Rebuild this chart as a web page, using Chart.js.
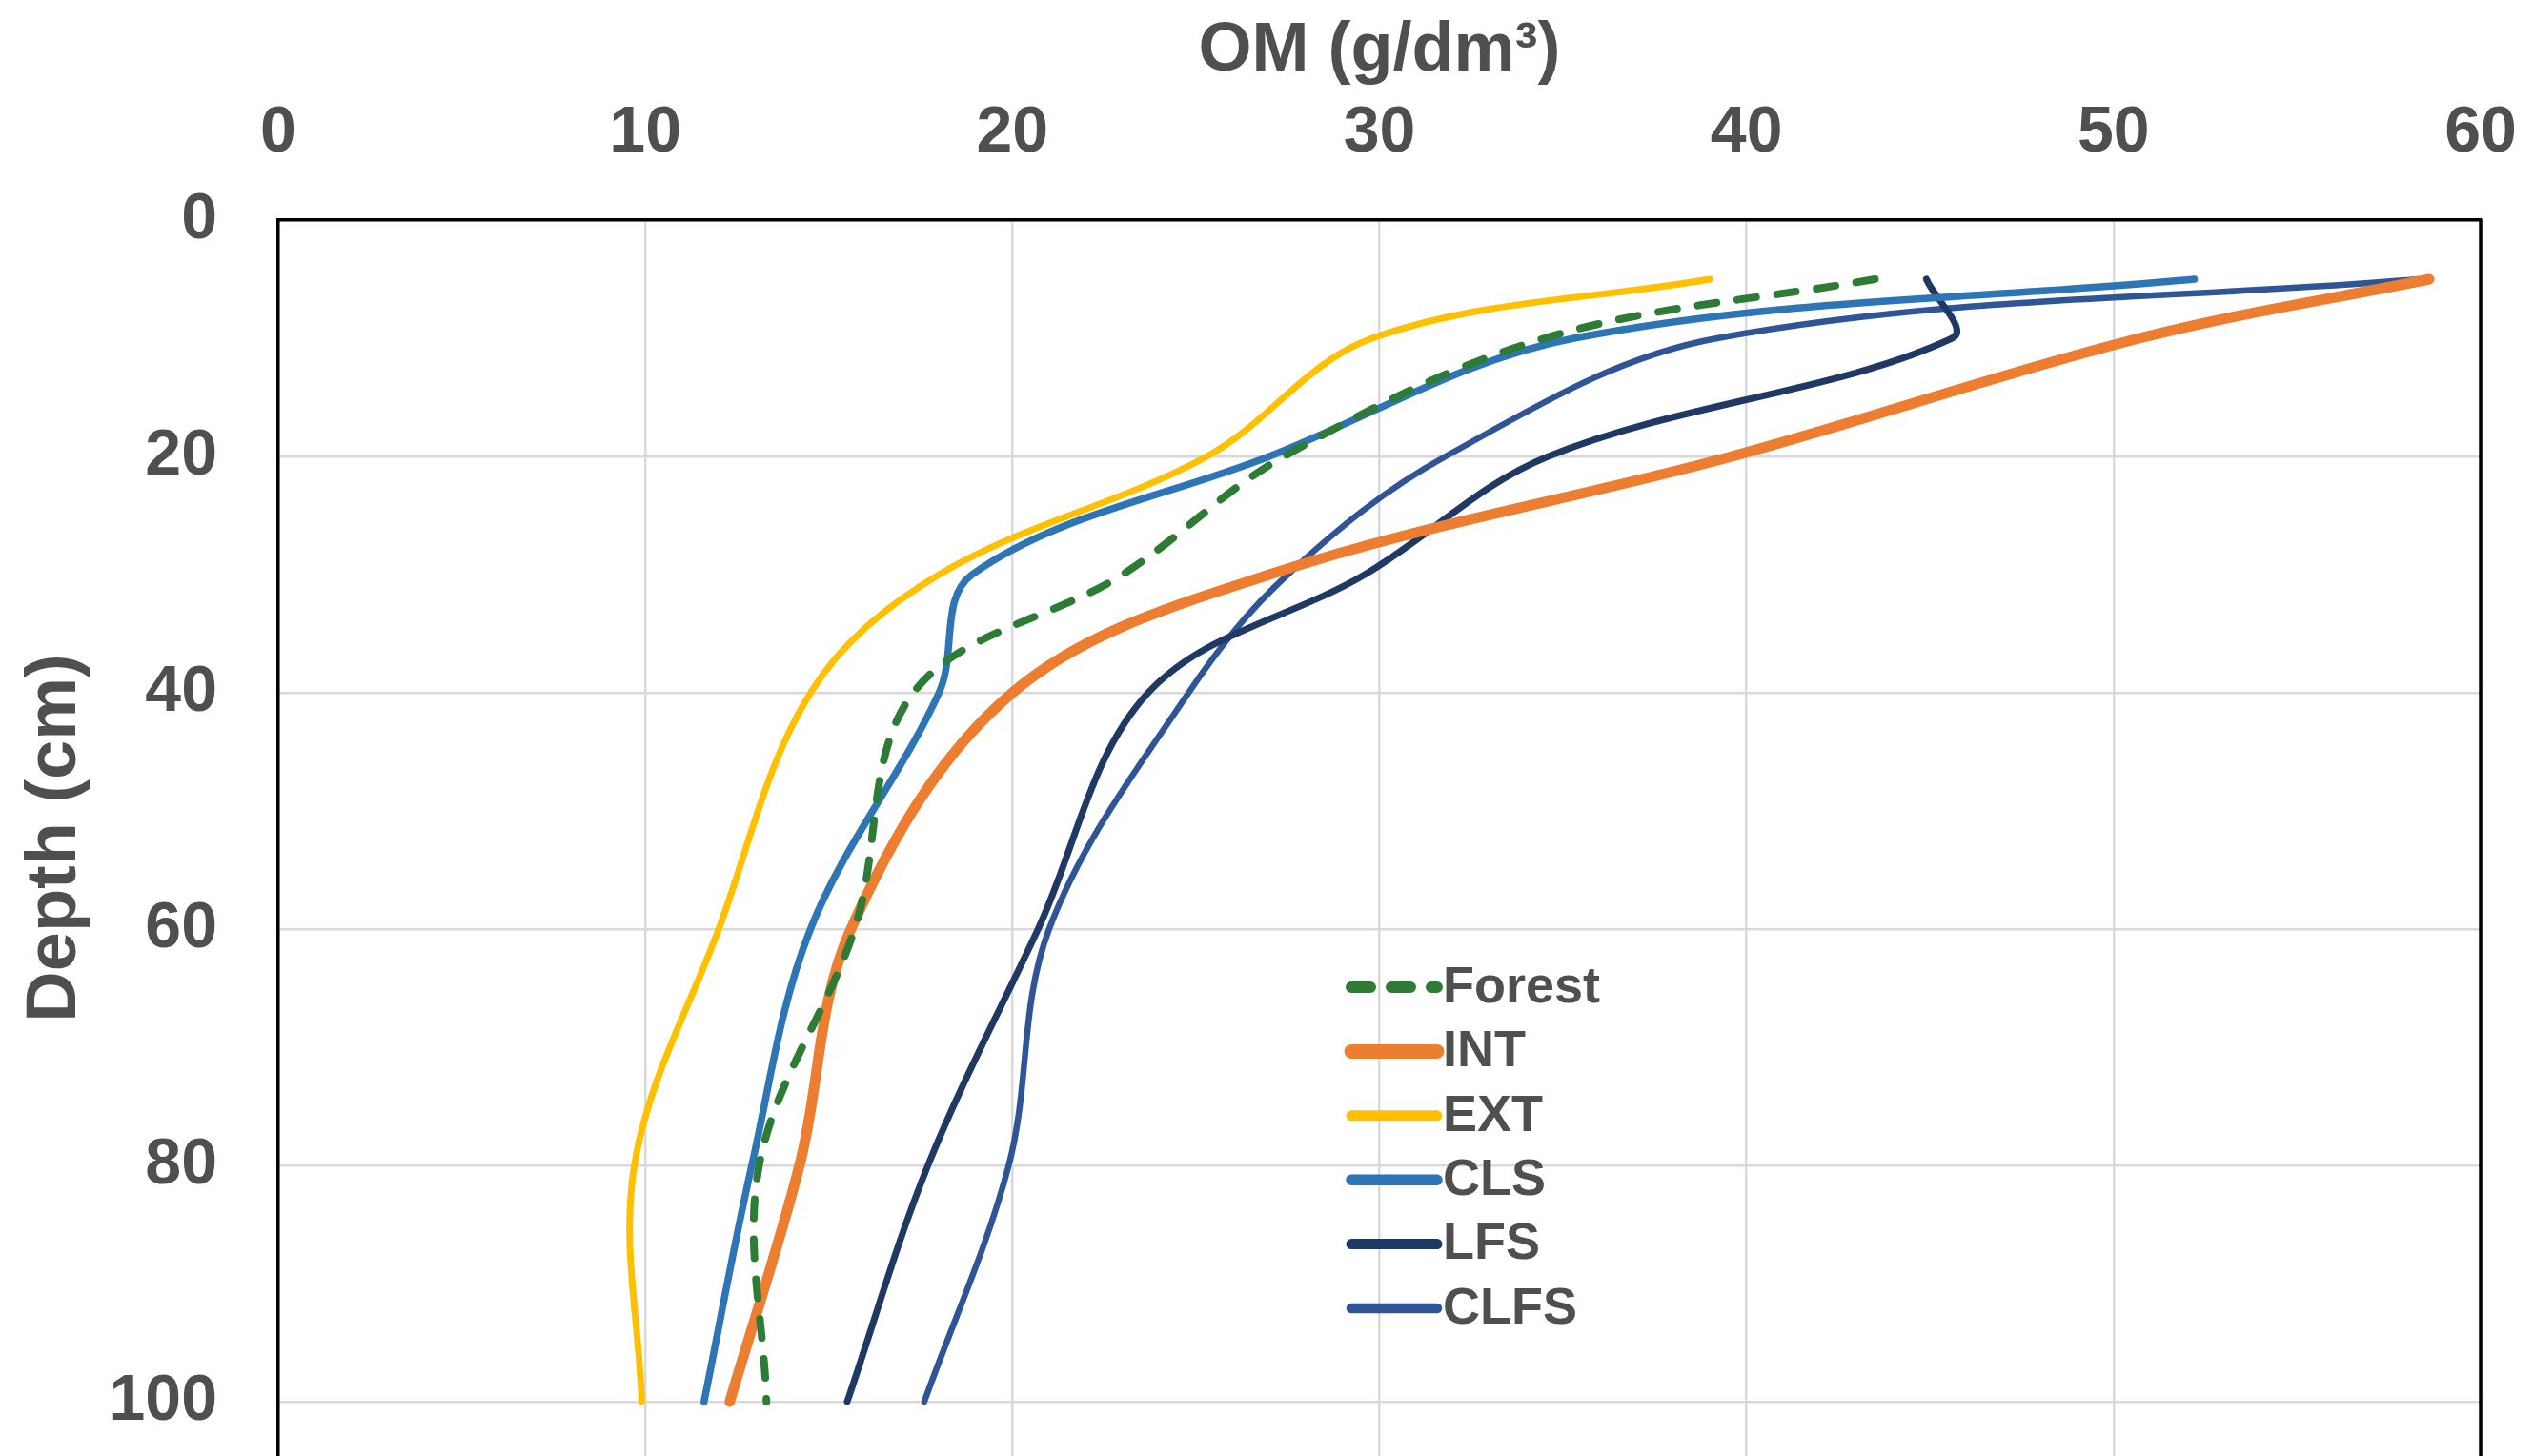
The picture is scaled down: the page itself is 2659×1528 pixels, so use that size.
<!DOCTYPE html>
<html lang="en">
<head>
<meta charset="utf-8">
<title>OM by depth</title>
<script src="https://cdn.jsdelivr.net/npm/chart.js@4.4.1/dist/chart.umd.min.js"></script>
<style>
  html, body { margin: 0; padding: 0; background: #fff; overflow: hidden; }
  #wrap { width: 2659px; height: 1528px; }
</style>
</head>
<body>
<div id="wrap"><canvas id="omChart" width="2659" height="1528"></canvas></div>
<script>
// Sampling depths (cm) shared by every profile
const depths = [5, 10, 20, 30, 40, 60, 80, 100];

// OM (g/dm3) per land use
const forest = [43.5, 34.5, 27.4, 23.0, 17.3, 15.7, 13.1, 13.3];
const intSeries = [58.6, 50.7, 39.6, 27.0, 20.0, 15.6, 14.2, 12.3];
const ext = [39.0, 29.8, 25.3, 18.0, 14.5, 12.0, 9.7, 9.9];
const cls = [52.2, 35.3, 27.0, 18.9, 18.0, 14.5, 12.9, 11.6];
const lfs = [44.9, 45.6, 34.6, 29.6, 23.7, 20.7, 17.7, 15.5];
const clfs = [58.3, 39.2, 31.8, 27.5, 24.8, 21.0, 19.9, 17.6];

const seriesLabels = ['Forest', 'INT', 'EXT', 'CLS', 'LFS', 'CLFS'];
const xTicks = [0, 10, 20, 30, 40, 50, 60];
const yTicks = [0, 20, 40, 60, 80, 100];

const FONT = '"Liberation Sans", Arial, Helvetica, sans-serif';
const TEXT_COLOR = '#4f4f4f';

/**
 * Pair a list of OM values with the sampling depths
 */
function toPoints(values) {
  return values.map((v, i) => ({ x: v, y: depths[i] }));
}

// Frame on the right side (Excel plot area box)
const rightBorder = {
  id: 'rightBorder',
  beforeDatasetsDraw(chart) {
    const { ctx, chartArea } = chart;
    ctx.save();
    ctx.strokeStyle = '#000';
    ctx.lineWidth = 3.5;
    ctx.beginPath();
    ctx.moveTo(chartArea.right, chartArea.top);
    ctx.lineTo(chartArea.right, chartArea.bottom);
    ctx.stroke();
    ctx.restore();
  }
};

// Legend drawn inside the plot, like the original
const innerLegend = {
  id: 'innerLegend',
  afterDraw(chart) {
    const { ctx } = chart;
    const x0 = 1418, x1 = 1508, top = 1036, step = 67.4;
    ctx.save();
    chart.data.datasets.forEach((ds, i) => {
      const y = top + i * step;
      ctx.strokeStyle = ds.borderColor;
      ctx.lineWidth = ds.legendWidth;
      ctx.lineCap = 'round';
      ctx.setLineDash(ds.borderDash || []);
      ctx.beginPath();
      ctx.moveTo(x0, y);
      ctx.lineTo(x1, y);
      ctx.stroke();
      ctx.setLineDash([]);
      ctx.fillStyle = TEXT_COLOR;
      ctx.font = 'bold 54px ' + FONT;
      ctx.textBaseline = 'middle';
      ctx.textAlign = 'left';
      ctx.fillText(ds.label, x1 + 6, y + 1);
    });
    ctx.restore();
  }
};

function makeDataset(label, values, color, width, extra = {}) {
  return Object.assign({
    label,
    data: toPoints(values),
    borderColor: color,
    backgroundColor: color,
    borderWidth: width,
    legendWidth: width + 4,
    borderCapStyle: 'round',
    borderJoinStyle: 'round',
    showLine: true,
    pointRadius: 0,
    tension: 0.35,
    fill: false
  }, extra);
}

function renderChart() {
  const ctx = document.getElementById('omChart').getContext('2d');

  new Chart(ctx, {
    type: 'scatter',
    data: {
      datasets: [
        makeDataset(seriesLabels[0], forest, '#2E7B36', 8, { borderDash: [20, 22] }),
        makeDataset(seriesLabels[1], intSeries, '#ED7D31', 11),
        makeDataset(seriesLabels[2], ext, '#FFC000', 7),
        makeDataset(seriesLabels[3], cls, '#2E75B6', 7.5),
        makeDataset(seriesLabels[4], lfs, '#1F3864', 7),
        makeDataset(seriesLabels[5], clfs, '#2F5597', 6.5)
      ]
    },
    options: {
      responsive: false,
      animation: false,
      devicePixelRatio: 1,
      layout: { padding: { top: 0, left: 0, right: 56, bottom: 0 } },
      plugins: {
        legend: { display: false },
        tooltip: { enabled: false }
      },
      scales: {
        x: {
          type: 'linear',
          position: 'top',
          min: xTicks[0],
          max: xTicks[xTicks.length - 1],
          afterBuildTicks: scale => { scale.ticks = xTicks.map(v => ({ value: v })); },
          afterFit: scale => {
            scale.height = 231;
            scale.paddingLeft = 0;
            scale.paddingRight = 0;
          },
          ticks: {
            padding: 50,
            color: TEXT_COLOR,
            font: { family: FONT, size: 68, weight: 'bold' }
          },
          grid: { color: '#d9d9d9', lineWidth: 2.5, drawTicks: false },
          border: { display: true, color: '#000', width: 3.5 },
          title: {
            display: true,
            text: 'OM (g/dm³)',
            color: TEXT_COLOR,
            font: { family: FONT, size: 72, weight: 'bold' },
            padding: { top: 11, bottom: 0 }
          }
        },
        y: {
          type: 'linear',
          reverse: true,
          min: 0,
          max: 104.6,
          afterBuildTicks: scale => { scale.ticks = yTicks.map(v => ({ value: v })); },
          afterFit: scale => {
            scale.width = 292;
            scale.paddingTop = 0;
            scale.paddingBottom = 0;
          },
          ticks: {
            padding: 64,
            color: TEXT_COLOR,
            font: { family: FONT, size: 68, weight: 'bold' }
          },
          grid: { color: '#d9d9d9', lineWidth: 2.5, drawTicks: false },
          border: { display: true, color: '#000', width: 3.5 },
          title: {
            display: true,
            text: 'Depth (cm)',
            color: TEXT_COLOR,
            font: { family: FONT, size: 74, weight: 'bold' },
            padding: { top: 14, bottom: 0 }
          }
        }
      }
    },
    plugins: [rightBorder, innerLegend]
  });
}

document.addEventListener('DOMContentLoaded', () => {
  renderChart();
});
</script>
</body>
</html>
